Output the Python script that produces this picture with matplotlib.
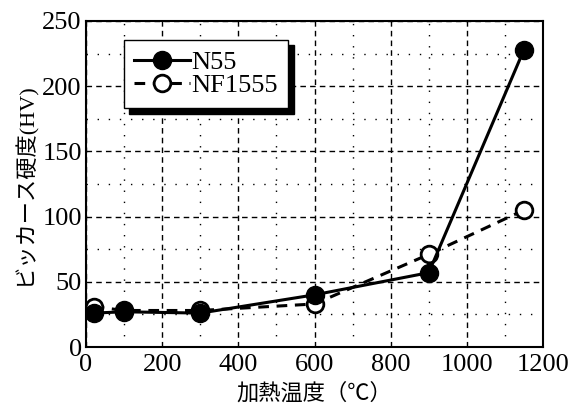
import matplotlib.pyplot as plt
from matplotlib.ticker import MultipleLocator

plt.rcParams['font.family'] = ['Liberation Serif', 'Noto Sans CJK JP']

# heating temperature (deg C) and Vickers hardness (HV)
temp = [20, 100, 300, 600, 900, 1150]
hv_n55 = [26, 27, 26, 40, 57, 228]
hv_nf1555 = [31, 28, 28, 33, 71, 105]

fig = plt.figure(figsize=(5.8, 4.08), dpi=100)
ax = fig.add_axes([86 / 580, 1 - 347 / 408, 457 / 580, 326 / 408])

ax.plot(temp, hv_nf1555, color='black', lw=2.2, ls=(0, (3.5, 2.5)), marker='o',
        ms=12, mfc='white', mec='black', mew=2, label='NF1555', zorder=3)
ax.plot(temp, hv_n55, color='black', lw=2.2, marker='o', ms=13,
        mfc='black', mec='black', label='N55', zorder=4)

ax.set_xlim(0, 1200)
ax.set_ylim(0, 250)
ax.xaxis.set_major_locator(MultipleLocator(200))
ax.xaxis.set_minor_locator(MultipleLocator(100))
ax.yaxis.set_major_locator(MultipleLocator(50))
ax.yaxis.set_minor_locator(MultipleLocator(25))
ax.grid(which='major', color='black', ls=(0, (4, 3)), lw=1)
ax.grid(which='minor', color='black', ls=(0, (1, 7)), lw=1)
ax.tick_params(which='both', length=0, labelsize=19)
ax.tick_params(axis='x', pad=5)
ax.tick_params(axis='y', pad=3)
for s in ax.spines.values():
    s.set_linewidth(1.5)

ax.set_xlabel('加熱温度（℃）', fontsize=16, labelpad=5)
ax.set_ylabel('ビッカース硬度(HV)', fontsize=16, labelpad=4)

h, l = ax.get_legend_handles_labels()
leg = ax.legend(h[::-1], l[::-1], loc='upper left', bbox_to_anchor=(0.083, 0.942),
                fontsize=19, frameon=True, fancybox=False, handlelength=2.1,
                handletextpad=0.05, borderpad=0.4, labelspacing=0.0,
                borderaxespad=0, shadow={'color': 'black', 'alpha': 1, 'ox': 4, 'oy': -4})
leg.get_frame().set_edgecolor('black')
leg.get_frame().set_linewidth(1)
leg.get_frame().set_alpha(1)

fig.savefig('out.png', dpi=100)
